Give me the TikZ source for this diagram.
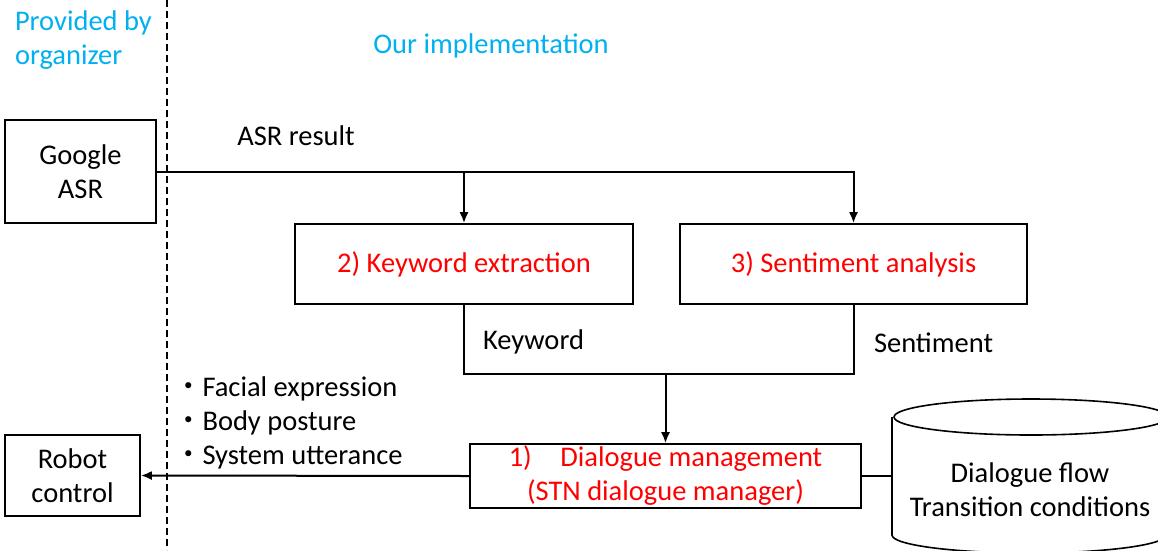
\documentclass[tikz,border=0pt]{standalone}
\usepackage{fontspec}
\setmainfont{Carlito}
\newfontfamily\cjk{Noto Sans CJK JP}
\usepackage{tikz}
\usetikzlibrary{arrows.meta,positioning,calc,shapes.geometric}
\definecolor{col1}{RGB}{0,176,240}
\colorlet{c1}{col1}
\colorlet{c2}{red}

\begin{document}
\begin{tikzpicture}[x=1pt, y=-1pt, >={Latex[length=11pt,width=9pt]}, line width=2pt,
  font=\fontsize{28.5}{34}\selectfont]
\tikzstyle{block}=[draw=black,line width=1.6pt,align=center,inner sep=0pt]
\tikzstyle{lbl}=[align=left,inner sep=0pt]
\useasboundingbox (0,0) rectangle (1158,550);

% headings
\node[lbl, text=c1, anchor=west] (prov) at (14,40) {Provided by\\organizer};
\node[lbl, text=c1] (ours) at (491,46) {Our implementation};
\coordinate (sepTop) at (167,0);
\coordinate (sepBot) at (167,550);
\draw[dash pattern=on 7pt off 4pt] (sepTop) -- (sepBot);

% blocks
\node[block, minimum width=151pt, minimum height=103pt] (asr) at (80.5,171.5) {Google\\ASR};
\node[block, minimum width=338pt, minimum height=80pt, text=c2] (kw) at (464,264) {2) Keyword extraction};
\node[block, minimum width=347pt, minimum height=80pt, text=c2] (sent) at (853.5,264) {3) Sentiment analysis};
\node[block, minimum width=391pt, minimum height=64pt, text=c2] (dm) at (665.5,476)
  {1)\quad Dialogue management\\(STN dialogue manager)};
\node[block, minimum width=135pt, minimum height=81pt] (robot) at (72.5,475.5) {Robot\\control};
\node[lbl, minimum width=274pt, minimum height=152pt] (db) at (1030,476) {};
\draw[line width=1.6pt] ($(db.north west)+(0,18)$) -- ($(db.south west)+(0,-18)$)
  arc[start angle=180, end angle=360, x radius=137pt, y radius=18pt]
  -- ($(db.north east)+(0,18)$)
  arc[start angle=0, end angle=360, x radius=137pt, y radius=18pt];
\node[lbl, align=center] (dbtext) at (1030,490) {Dialogue flow\\Transition conditions};

% labels
\node[lbl] (asrres) at (296,136) {ASR result};
\node[lbl, anchor=west] (kwlbl) at (482,342) {Keyword};
\node[lbl, anchor=west] (sentlbl) at (873,343) {Sentiment};
\node[lbl, anchor=west] (acts) at (173,423)
  {{\cjk ・}Facial expression\\{\cjk ・}Body posture\\{\cjk ・}System utterance};

% connectors
\coordinate (join) at (665.5,374);
\draw[->] (asr.east) -| (sent.north);
\draw[->] (kw.north |- asr.east) -- (kw.north);
\draw (kw.south) |- (join) -| (sent.south);
\draw[->] (join) -- (dm.north);
\draw[->] (dm.west) -- (robot.east);
\draw (dm.east) -- (db.west);
\end{tikzpicture}
\end{document}
